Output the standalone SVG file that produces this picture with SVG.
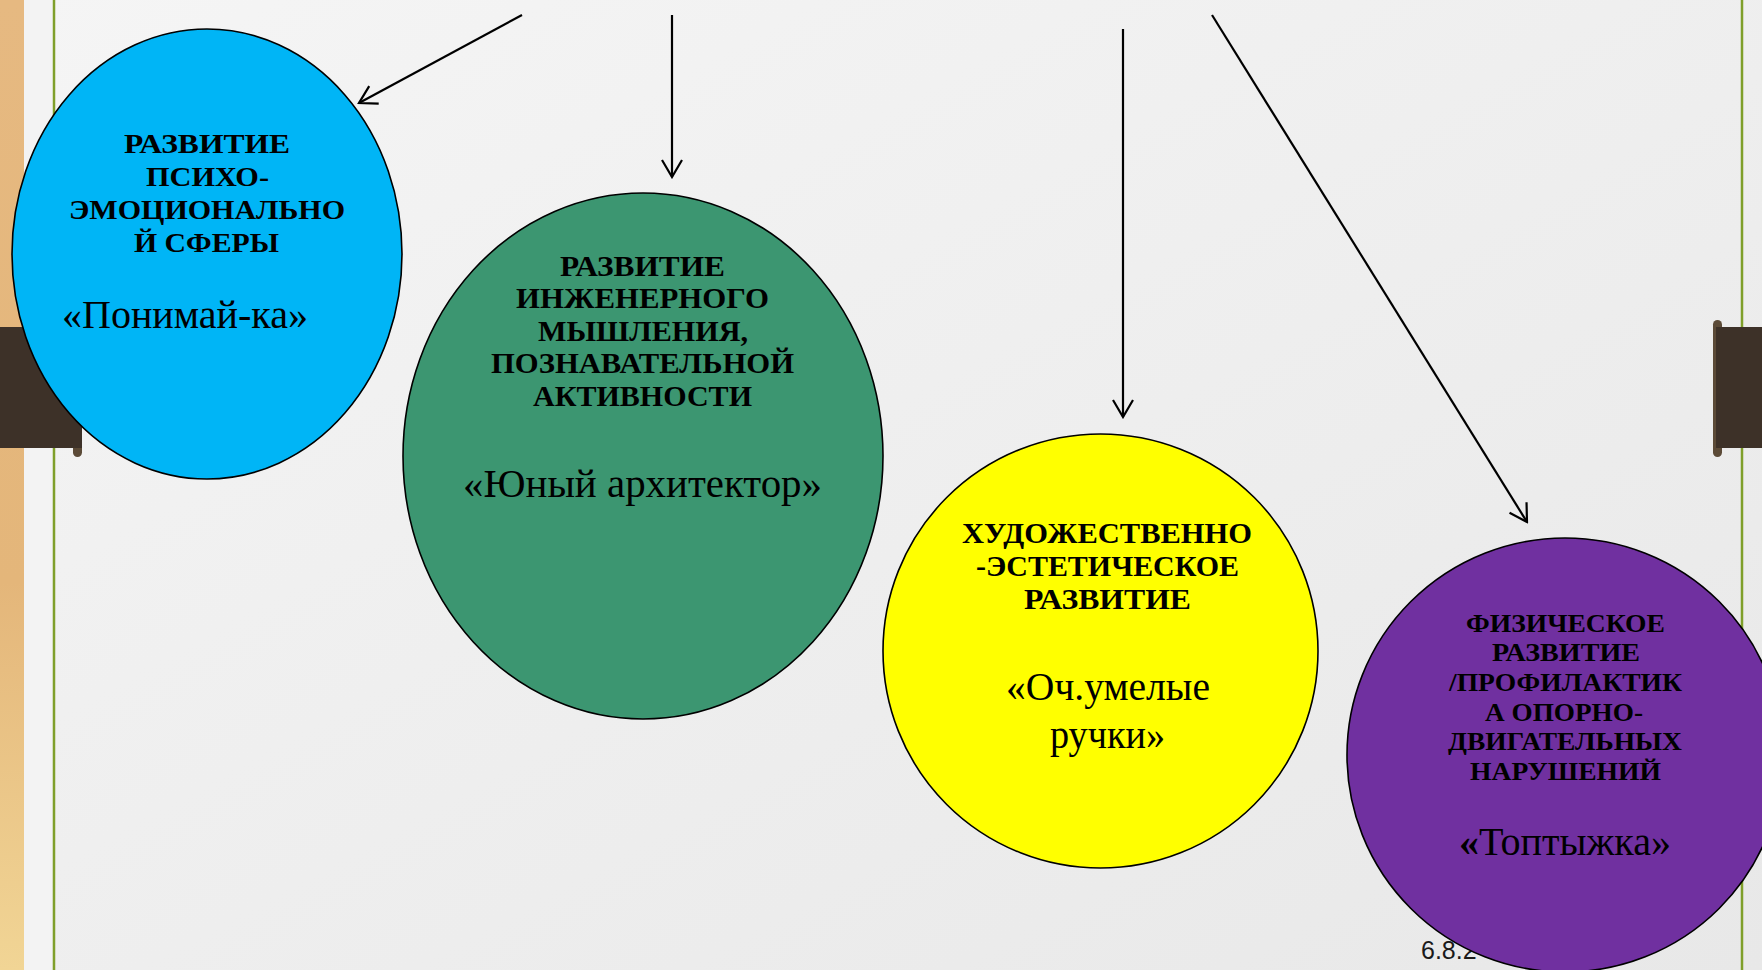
<svg xmlns="http://www.w3.org/2000/svg" width="1762" height="970" viewBox="0 0 1762 970">
  <defs>
    <linearGradient id="bg" x1="0" y1="0" x2="1" y2="1">
      <stop offset="0" stop-color="#f5f5f5"/>
      <stop offset="1" stop-color="#e8e8e8"/>
    </linearGradient>
    <linearGradient id="wood" x1="0" y1="0" x2="0" y2="1">
      <stop offset="0" stop-color="#e6b981"/>
      <stop offset="0.6" stop-color="#e4b67a"/>
      <stop offset="1" stop-color="#f1d595"/>
    </linearGradient>
    <marker id="arr" viewBox="-22 -12 24 24" refX="0" refY="0" markerWidth="24" markerHeight="24" markerUnits="userSpaceOnUse" orient="auto">
      <path d="M -17 -10 L 0 0 L -17 10" fill="none" stroke="#000" stroke-width="2.2"/>
    </marker>
    <style>
      .conn { stroke: #000; stroke-width: 2.2; fill: none; marker-end: url(#arr); }
      .shape { stroke: #000; stroke-width: 1.6; }
      .hd { font-family: "Liberation Serif", "DejaVu Serif", serif; font-weight: bold; fill: #000; text-anchor: middle; }
      .nm { font-family: "Liberation Serif", "DejaVu Serif", serif; font-weight: normal; fill: #000; text-anchor: middle; }
      .tab { fill: #3d3128; }
      .knob { fill: #5b4a37; }
      .rule { stroke: #7f9f2a; stroke-width: 2.5; }
    </style>
  </defs>

  <!-- background -->
  <rect x="0" y="0" width="1762" height="970" fill="url(#bg)"/>
  <rect x="0" y="0" width="24" height="970" fill="url(#wood)"/>
  <rect x="24" y="0" width="28" height="970" fill="#f3f3f3"/>
  <line class="rule" x1="54" y1="0" x2="54" y2="970"/>
  <line class="rule" x1="1742" y1="0" x2="1742" y2="970"/>

  <!-- tabs -->
  <g id="tab-left">
    <rect class="knob" x="73" y="436" width="9" height="21" rx="4.5"/>
    <rect class="tab" x="0" y="327" width="82" height="121"/>
  </g>
  <g id="tab-right">
    <rect class="knob" x="1713" y="320" width="9" height="137" rx="4.5"/>
    <rect class="tab" x="1716" y="327" width="46" height="121"/>
  </g>

  <text id="date" x="1421" y="959" font-family="Liberation Sans, Arial, sans-serif" font-size="25" fill="#1a1a1a">6.8.2</text>

  <!-- connectors -->
  <g id="connectors">
    <line class="conn" x1="522" y1="15" x2="359" y2="103"/>
    <line class="conn" x1="672" y1="15" x2="672" y2="177"/>
    <line class="conn" x1="1123" y1="29" x2="1123" y2="417"/>
    <line class="conn" x1="1212" y1="15" x2="1527" y2="522"/>
  </g>

  <g id="node-psycho">
    <ellipse class="shape" cx="207" cy="254" rx="195" ry="225" fill="#00b5f6"/>
    <text class="hd" font-size="28" x="207" y="153" textLength="166" lengthAdjust="spacingAndGlyphs">РАЗВИТИЕ</text>
    <text class="hd" font-size="28" x="207.5" y="186" textLength="123" lengthAdjust="spacingAndGlyphs">ПСИХО-</text>
    <text class="hd" font-size="28" x="207" y="219" textLength="276" lengthAdjust="spacingAndGlyphs">ЭМОЦИОНАЛЬНО</text>
    <text class="hd" font-size="28" x="206.5" y="252" textLength="145" lengthAdjust="spacingAndGlyphs">Й СФЕРЫ</text>
    <text class="nm" font-size="39" x="185" y="328" textLength="246" lengthAdjust="spacingAndGlyphs">«Понимай-ка»</text>
  </g>

  <g id="node-engineer">
    <ellipse class="shape" cx="643" cy="456" rx="240" ry="263" fill="#3c9671"/>
    <text class="hd" font-size="28.5" x="642.5" y="276" textLength="165" lengthAdjust="spacingAndGlyphs">РАЗВИТИЕ</text>
    <text class="hd" font-size="28.5" x="642.5" y="308" textLength="253" lengthAdjust="spacingAndGlyphs">ИНЖЕНЕРНОГО</text>
    <text class="hd" font-size="28.5" x="643" y="341" textLength="210" lengthAdjust="spacingAndGlyphs">МЫШЛЕНИЯ,</text>
    <text class="hd" font-size="28.5" x="642.5" y="373" textLength="303" lengthAdjust="spacingAndGlyphs">ПОЗНАВАТЕЛЬНОЙ</text>
    <text class="hd" font-size="28.5" x="642.5" y="406" textLength="219" lengthAdjust="spacingAndGlyphs">АКТИВНОСТИ</text>
    <text class="nm" font-size="40" x="642.5" y="497" textLength="359" lengthAdjust="spacingAndGlyphs">«Юный архитектор»</text>
  </g>

  <g id="node-art">
    <ellipse class="shape" cx="1100.5" cy="651" rx="217.5" ry="217" fill="#ffff00"/>
    <text class="hd" font-size="28.5" x="1107" y="543" textLength="290" lengthAdjust="spacingAndGlyphs">ХУДОЖЕСТВЕННО</text>
    <text class="hd" font-size="28.5" x="1107.5" y="576" textLength="263" lengthAdjust="spacingAndGlyphs">-ЭСТЕТИЧЕСКОЕ</text>
    <text class="hd" font-size="28.5" x="1107.5" y="609" textLength="167" lengthAdjust="spacingAndGlyphs">РАЗВИТИЕ</text>
    <text class="nm" font-size="40" x="1108" y="700" textLength="204" lengthAdjust="spacingAndGlyphs">«Оч.умелые</text>
    <text class="nm" font-size="40" x="1107.5" y="748" textLength="115" lengthAdjust="spacingAndGlyphs">ручки»</text>
  </g>

  <g id="node-physical">
    <ellipse class="shape" cx="1565" cy="755" rx="218" ry="217" fill="#7030a0"/>
    <text class="hd" font-size="24.5" x="1565.5" y="632" textLength="199" lengthAdjust="spacingAndGlyphs">ФИЗИЧЕСКОЕ</text>
    <text class="hd" font-size="24.5" x="1566" y="661" textLength="148" lengthAdjust="spacingAndGlyphs">РАЗВИТИЕ</text>
    <text class="hd" font-size="24.5" x="1565.5" y="691" textLength="233" lengthAdjust="spacingAndGlyphs">/ПРОФИЛАКТИК</text>
    <text class="hd" font-size="24.5" x="1564" y="721" textLength="158" lengthAdjust="spacingAndGlyphs">А ОПОРНО-</text>
    <text class="hd" font-size="24.5" x="1565" y="750" textLength="234" lengthAdjust="spacingAndGlyphs">ДВИГАТЕЛЬНЫХ</text>
    <text class="hd" font-size="24.5" x="1565.5" y="780" textLength="191" lengthAdjust="spacingAndGlyphs">НАРУШЕНИЙ</text>
    <text class="nm" font-size="40" x="1565" y="855" textLength="212" lengthAdjust="spacingAndGlyphs"><tspan font-weight="bold">«</tspan>Топтыжка»</text>
  </g>
</svg>
